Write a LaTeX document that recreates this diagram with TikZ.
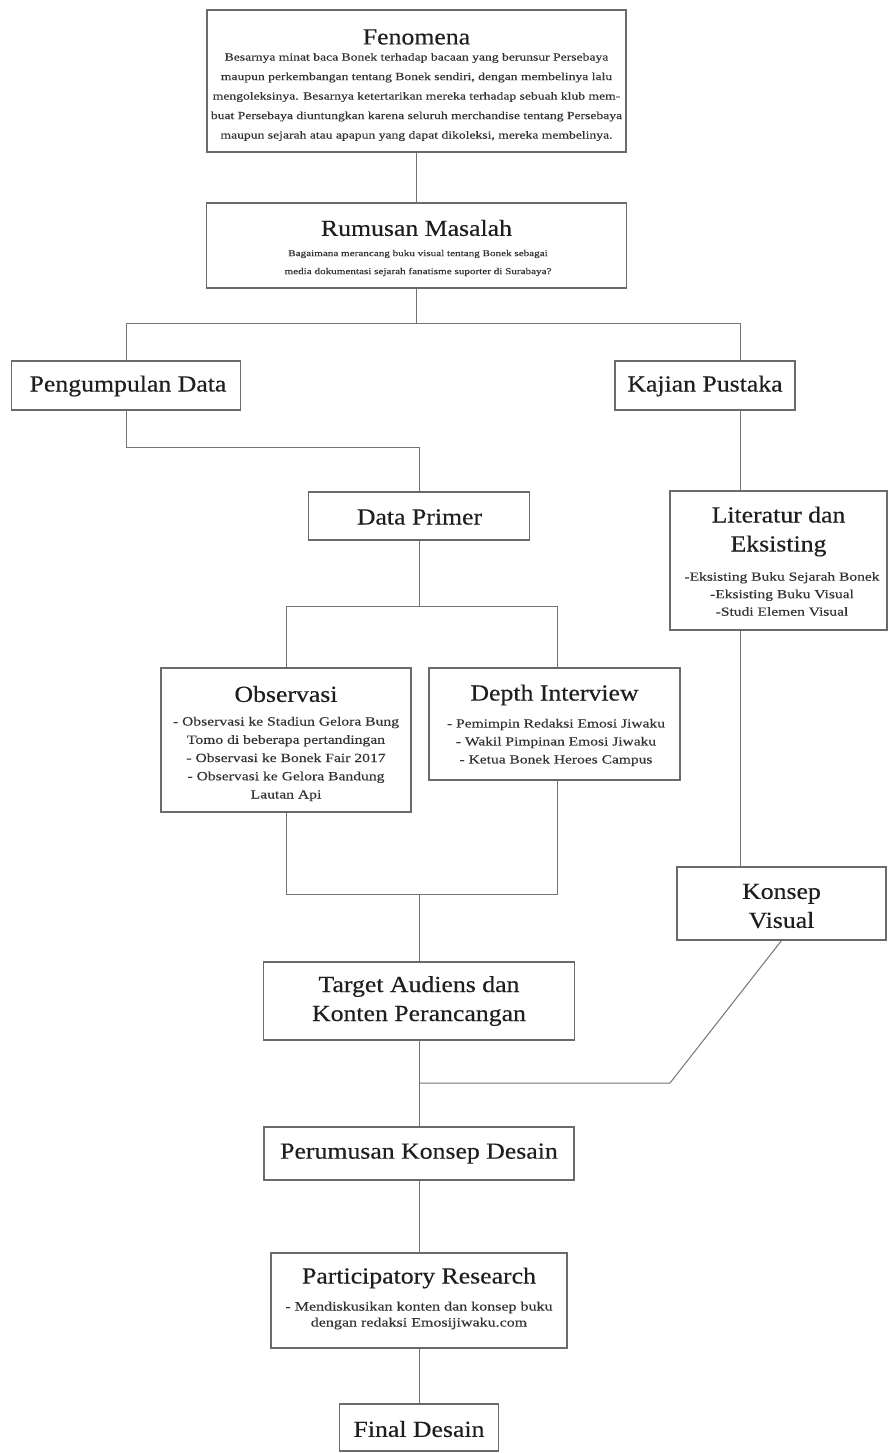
\documentclass[tikz,border=0pt]{standalone}
\usepackage{fontspec}
\setmainfont{Liberation Serif}[FakeStretch=1.12,FakeBold=0.35]
\newfontfamily\bodyf{Liberation Serif}[FakeStretch=1.25,FakeBold=0.3]
\definecolor{boxgray}{HTML}{6A6A6A}
\definecolor{linegray}{HTML}{747474}
\definecolor{ttlcol}{HTML}{1E1E1E}
\definecolor{bdycol}{HTML}{333333}
\tikzset{
  box/.style 2 args={draw=boxgray, line width=1.1pt, fill=white, inner sep=0pt,
    minimum width=#1, minimum height=#2},
  conn/.style={draw=linegray, line width=1pt},
  ttl/.style={text=ttlcol, align=center, inner sep=0pt,
    font=\fontsize{23}{29}\selectfont},
  bdy/.style={text=bdycol, align=center, inner sep=0pt},
}
\begin{document}
\begin{tikzpicture}[x=1pt,y=-1pt]
\path[fill=white] (0,0) rectangle (889,1453);
\useasboundingbox (0,0) rectangle (889,1453);

% boxes
\node[box={419pt}{142pt}] (fen) at (416.5,81) {};
\node[box={420pt}{85pt}] (rum) at (416.5,245.5) {};
\node[box={229pt}{49pt}] (pd) at (126,385.5) {};
\node[box={180pt}{49pt}] (kp) at (705,385.5) {};
\node[box={221pt}{48pt}] (dp) at (419,516) {};
\node[box={217pt}{139pt}] (lit) at (778.5,560.5) {};
\node[box={250pt}{144pt}] (obs) at (286,740) {};
\node[box={251pt}{112pt}] (dep) at (554.5,724) {};
\node[box={209pt}{73pt}] (kv) at (781.5,903.5) {};
\node[box={311pt}{78pt}] (ta) at (419,1001) {};
\node[box={310pt}{53pt}] (pk) at (419,1153.5) {};
\node[box={296pt}{95pt}] (pr) at (419,1300.5) {};
\node[box={159pt}{47pt}] (fd) at (419,1427.5) {};

% texts
\node[ttl] (fen-t) at (416.5,37) {Fenomena};
\node[bdy, font=\bodyf\fontsize{10.9}{19.5}\selectfont] (fen-b) at (416.5,97) {Besarnya minat baca Bonek terhadap bacaan yang berunsur Persebaya\\maupun perkembangan tentang Bonek sendiri, dengan membelinya lalu\\mengoleksinya. Besarnya ketertarikan mereka terhadap sebuah klub mem-\\buat Persebaya diuntungkan karena seluruh merchandise tentang Persebaya\\maupun sejarah atau apapun yang dapat dikoleksi, mereka membelinya.};

\node[ttl] (rum-t) at (416.5,228) {Rumusan Masalah};
\node[bdy, font=\bodyf\fontsize{8.9}{18}\selectfont] (rum-b) at (418,263) {Bagaimana merancang buku visual tentang Bonek sebagai\\media dokumentasi sejarah fanatisme suporter di Surabaya?};

\node[ttl] (pd-t) at (128,386) {Pengumpulan Data};
\node[ttl] (kp-t) at (705,386) {Kajian Pustaka};
\node[ttl] (dp-t) at (419.5,517) {Data Primer};

\node[ttl] (lit-t) at (778.5,531.5) {Literatur dan\\Eksisting};
\node[bdy, font=\bodyf\fontsize{12.4}{17.5}\selectfont] (lit-b) at (782,594) {-Eksisting Buku Sejarah Bonek\\-Eksisting Buku Visual\\-Studi Elemen Visual};

\node[ttl] (obs-t) at (286,694) {Observasi};
\node[bdy, font=\bodyf\fontsize{12.5}{18.25}\selectfont] (obs-b) at (286,759) {- Observasi ke Stadiun Gelora Bung\\Tomo di beberapa pertandingan\\- Observasi ke Bonek Fair 2017\\- Observasi ke Gelora Bandung\\Lautan Api};

\node[ttl] (dep-t) at (554.5,695) {Depth Interview};
\node[bdy, font=\bodyf\fontsize{12.4}{18}\selectfont] (dep-b) at (556,742.5) {- Pemimpin Redaksi Emosi Jiwaku\\- Wakil Pimpinan Emosi Jiwaku\\- Ketua Bonek Heroes Campus};

\node[ttl] (kv-t) at (781.5,906) {Konsep\\Visual};
\node[ttl] (ta-t) at (419,1001) {Target Audiens dan\\Konten Perancangan};
\node[ttl] (pk-t) at (419,1153.5) {Perumusan Konsep Desain};

\node[ttl] (pr-t) at (419,1278) {Participatory Research};
\node[bdy, font=\bodyf\fontsize{12.8}{16}\selectfont] (pr-b) at (419,1315.5) {- Mendiskusikan konten dan konsep buku\\dengan redaksi Emosijiwaku.com};

\node[ttl] (fd-t) at (419,1429) {Final Desain};

% connectors
\coordinate (jA) at (126,323);
\coordinate (jB) at (740,323);
\coordinate (jC) at (126,447);
\coordinate (jD) at (286,606);
\coordinate (jE) at (557,606);
\coordinate (jF) at (286,894);
\coordinate (jG) at (557,894);
\coordinate (jH) at (419,1083);
\coordinate (jI) at (670,1083);

\draw[conn] (fen.south) -- (rum.north);
\draw[conn] (rum.south) -- (rum.south |- jA);
\draw[conn] (jA |- pd.north) -- (jA) -- (jB) -- (jB |- kp.north);
\draw[conn] (pd.south) -- (jC) -| (dp.north);
\draw[conn] (jB |- kp.south) -- (jB |- lit.north);
\draw[conn] (jB |- lit.south) -- (jB |- kv.north);
\draw[conn] (dp.south) -- (dp.south |- jD);
\draw[conn] (obs.north) -- (jD) -- (jE) -- (jE |- dep.north);
\draw[conn] (obs.south) -- (jF) -- (jG) -- (jG |- dep.south);
\draw[conn] (ta.north |- jF) -- (ta.north);
\draw[conn] (ta.south) -- (pk.north);
\draw[conn] (jH) -- (jI) -- (kv.south);
\draw[conn] (pk.south) -- (pr.north);
\draw[conn] (pr.south) -- (fd.north);
\end{tikzpicture}
\end{document}
